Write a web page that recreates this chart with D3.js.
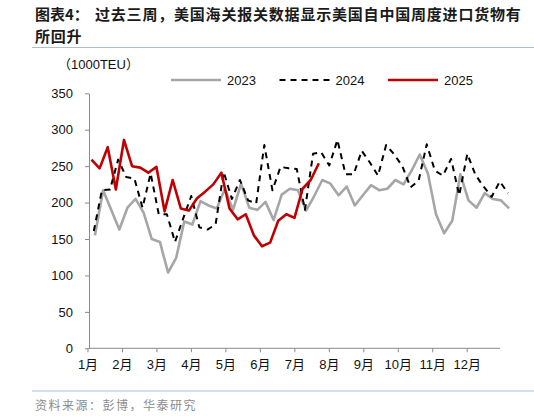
<!DOCTYPE html>
<html><head><meta charset="utf-8">
<script src="https://cdn.jsdelivr.net/npm/d3@7/dist/d3.min.js"></script>
<style>body{margin:0;background:#fff}svg{display:block}</style>
</head><body>
<svg id="c" width="534" height="416"></svg>
<script>
// ---- data ----
const titleLabel = "图表4：";
const titleLine1 = "过去三周，美国海关报关数据显示美国自中国周度进口货物有";
const titleLine2 = "所回升";
const unitLabel = "（1000TEU）";
const sourceText = "资料来源：彭博，华泰研究";
const months = ["1月","2月","3月","4月","5月","6月","7月","8月","9月","10月","11月","12月"];
const yTicks = [0,50,100,150,200,250,300,350];
const seriesNames = ["2023","2024","2025"];
const startDates = ["2023-01-07","2024-01-06","2025-01-04"];
const values2023 = [155,217,190,163,193,205,186,150,146,104,124,174,170,202,196,192,219,190,226,193,190,201,176,211,219,217,189,209,231,226,210,222,196,210,224,217,219,231,225,244,266,240,184,158,175,239,203,193,213,205,203,192];
const values2024 = [161,217,218,259,235,233,193,240,184,184,146,178,209,166,163,170,242,205,231,203,199,279,217,249,247,246,190,267,269,251,286,239,239,271,255,237,279,266,250,221,230,280,244,237,260,210,267,238,222,208,229,213];
const values2025 = [259,247,276,218,286,250,248,241,249,188,231,192,189,206,215,225,241,192,177,184,155,140,145,175,184,179,219,231,254];

const svg = d3.select("#c");
const cjk = "'Noto Sans CJK SC','Noto Sans',sans-serif";
const latin = "'Liberation Sans',Arial,'Noto Sans CJK SC',sans-serif";

// title
svg.append("text").attr("x",35).attr("y",20).text(titleLabel)
  .attr("font-family",cjk).attr("font-weight","bold").attr("font-size",15).attr("fill","#1a1a1a");
svg.append("text").attr("x",95).attr("y",20).text(titleLine1)
  .attr("font-family",cjk).attr("font-weight","bold").attr("font-size",15).attr("letter-spacing",0.8).attr("fill","#1a1a1a");
svg.append("text").attr("x",35).attr("y",42).text(titleLine2)
  .attr("font-family",cjk).attr("font-weight","bold").attr("font-size",15).attr("letter-spacing",0.8).attr("fill","#1a1a1a");
svg.append("line").attr("x1",32).attr("x2",534).attr("y1",47.5).attr("y2",47.5).attr("stroke","#aebfd3").attr("stroke-width",1);
svg.append("line").attr("x1",32).attr("x2",534).attr("y1",391).attr("y2",391).attr("stroke","#aebfd3").attr("stroke-width",1);
svg.append("text").attr("x",35).attr("y",409.5).text(sourceText)
  .attr("font-family",cjk).attr("font-size",12).attr("letter-spacing",1.5).attr("fill","#8c8c8c");

// scales
const y = d3.scaleLinear().domain([0,350]).range([348.3,93.3]);
const xDay = d3.scaleLinear().domain([0,365]).range([88,511.4]);
const xMonth = d3.scalePoint().domain(months).range([87.5,466.7]);

// axes
const gy = svg.append("g").attr("transform","translate(89,0)")
  .call(d3.axisLeft(y).tickValues(yTicks).tickSize(4).tickPadding(12).tickSizeOuter(0));
gy.select(".domain").attr("stroke","#8a8a8a");
gy.selectAll(".tick line").attr("stroke","#8a8a8a");
gy.selectAll("text").attr("font-family",latin).attr("font-size",13).attr("fill","#111");

const gx = svg.append("g").attr("transform","translate(0,348.3)")
  .call(d3.axisBottom(xMonth).tickSize(4).tickPadding(7).tickSizeOuter(0));
gx.select(".domain").remove();
gx.selectAll(".tick line").attr("stroke","#8a8a8a");
gx.selectAll("text").attr("font-family",latin).attr("font-size",13).attr("fill","#111");
svg.append("line").attr("x1",89).attr("x2",500).attr("y1",348.3).attr("y2",348.3).attr("stroke","#8a8a8a");

// unit
svg.append("text").attr("x",58).attr("y",69).text(unitLabel)
  .attr("font-family",latin).attr("font-size",13).attr("fill","#111");

// series
const parse = d3.timeParse("%Y-%m-%d");
const allValues = [values2023, values2024, values2025];
const styles = [
  {color:"#a6a6a6", width:2.6, dash:null},
  {color:"#000000", width:2, dash:"6,5"},
  {color:"#c00000", width:2.6, dash:null}
];
const series = seriesNames.map((name,k)=>{
  const s = parse(startDates[k]);
  return {name, pts: allValues[k].map((v,i)=>{
    const d = d3.timeDay.offset(s, 7*i);
    return {doy: d3.timeDay.count(d3.timeYear(d), d), v};
  })};
});
const line = d3.line().x(d=>xDay(d.doy)).y(d=>y(d.v));
series.forEach((s,k)=>{
  svg.append("path").datum(s.pts).attr("d",line).attr("fill","none")
    .attr("stroke",styles[k].color).attr("stroke-width",styles[k].width)
    .attr("stroke-dasharray",styles[k].dash).attr("stroke-linejoin","round");
});

// legend
const lg = svg.append("g");
series.forEach((s,k)=>{
  const x0 = 171 + k*108.5;
  lg.append("line").attr("x1",x0).attr("x2",x0+50).attr("y1",80).attr("y2",80)
    .attr("stroke",styles[k].color).attr("stroke-width",styles[k].width).attr("stroke-dasharray",styles[k].dash);
  lg.append("text").attr("x",x0+56).attr("y",84.7).text(s.name)
    .attr("font-family",latin).attr("font-size",13).attr("fill","#111");
});
</script>
</body></html>
